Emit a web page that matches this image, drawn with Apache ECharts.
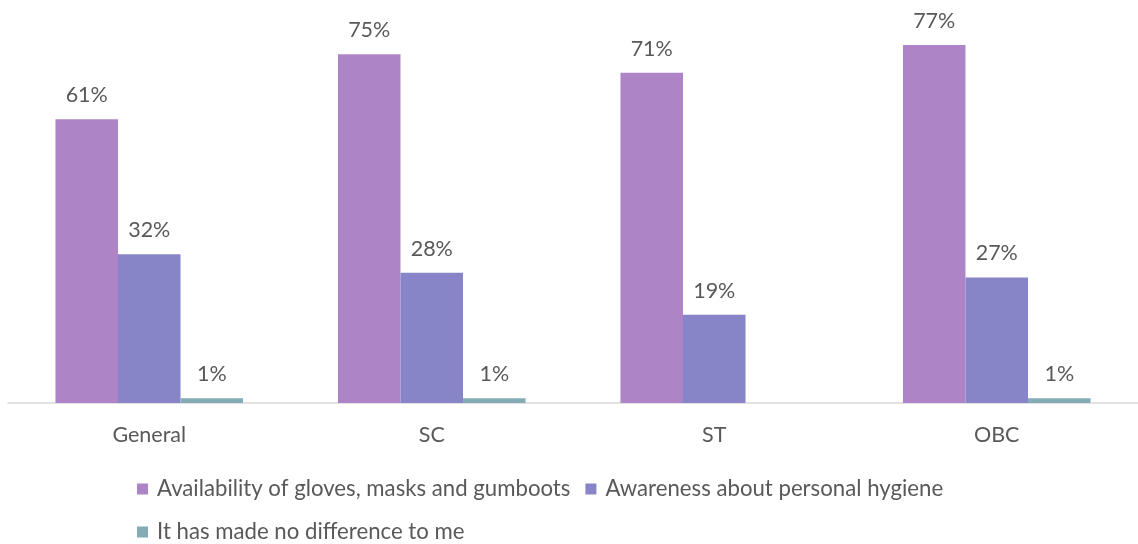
<!DOCTYPE html>
<html><head><meta charset="utf-8">
<script src="https://cdn.jsdelivr.net/npm/echarts@6/dist/echarts.min.js"></script>
<style>html,body{margin:0;padding:0;background:#fff}#c{width:1138px;height:544px}</style>
</head><body><div id="c"></div>
<script>
const categories = ['General', 'SC', 'ST', 'OBC'];
const seriesNames = ['Availability of gloves, masks and gumboots', 'Awareness about personal hygiene', 'It has made no difference to me'];
const gloves = [61, 75, 71, 77];
const hygiene = [32, 28, 19, 27];
const noDiff = [1, 1, null, 1];
const colors = ['#AD84C6', '#8784C7', '#84ACB6'];
const FONT = 'Lato';
const TXT = '#595959';

const chart = echarts.init(document.getElementById('c'), null, {renderer: 'canvas'});
const mk = (name, data, color) => ({
  name, type: 'bar', data, barGap: '0%', barCategoryGap: '33.6%',
  itemStyle: {color},
  label: {show: true, position: 'top', distance: 13, formatter: p => p.value == null ? '' : p.value + '%',
    color: TXT, fontFamily: FONT, fontSize: 21.5}
});
const legendText = {color: TXT, fontFamily: FONT, fontSize: 22.2, padding: [0,0,0,4]};
chart.setOption({
  animation: false,
  textStyle: {fontFamily: FONT},
  grid: {left: 8, right: -9, top: 31, bottom: 141, containLabel: false},
  xAxis: {type: 'category', data: categories,
    axisLine: {lineStyle: {color: '#D9D9D9', width: 1.5}}, axisTick: {show: false},
    axisLabel: {color: TXT, fontFamily: FONT, fontSize: 21.5, margin: 21}},
  yAxis: {type: 'value', min: 0, max: 80, show: false, splitLine: {show: false}},
  legend: [
    {data: [seriesNames[0], seriesNames[1]], left: 132, top: 473, itemWidth: 11, itemHeight: 11, itemGap: 15,
      icon: 'rect', textStyle: legendText},
    {data: [seriesNames[2]], left: 132, top: 516, itemWidth: 11, itemHeight: 11, itemGap: 15,
      icon: 'rect', textStyle: legendText}
  ],
  series: [mk(seriesNames[0], gloves, colors[0]), mk(seriesNames[1], hygiene, colors[1]), mk(seriesNames[2], noDiff, colors[2])]
});
</script></body></html>
